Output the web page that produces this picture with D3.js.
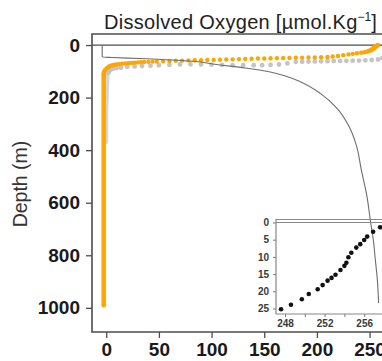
<!DOCTYPE html>
<html>
<head>
<meta charset="utf-8">
<script src="https://cdn.jsdelivr.net/npm/d3@7"></script>
<style>
  body { margin: 0; background: #fff; }
  svg { display: block; font-family: "Liberation Sans", Arial, sans-serif; }
</style>
</head>
<body>
<div id="chart"></div>
<script>
// tick values
const xTicks = [0, 50, 100, 150, 200, 250];
const yTicks = [0, 200, 400, 600, 800, 1000];
const insetXTicks = [248, 250, 252, 254, 256, 258];
const insetXLabels = [248, 252, 256];
const insetYTicks = [0, 5, 10, 15, 20, 25];

// [oxygen, depth] – orange cast, upper part drawn as dots
const orangeDots = [
  [258, 0], [257.6, 1.4], [256.9, 2.7], [256.3, 4.1], [256, 5.1], [255.6, 6.3],
  [255.2, 7.3], [254.7, 8.8], [254.4, 10.1], [254.2, 11.7], [254, 12.6], [253.6, 13.8],
  [253.1, 15.2], [252.7, 16.1], [252.3, 16.9], [251.8, 18.2], [251.3, 19.4],
  [250.4, 20.8], [249.7, 22.3], [248.6, 23.9], [247.6, 25.2], [245, 27.5],
  [242, 29.5], [238, 31.5], [234, 33.5], [230, 35.5], [225, 38.5], [220, 41.5],
  [215, 43.5], [210, 45.5], [204, 46.5], [198, 47], [192, 47.5], [186, 48],
  [180, 48.5], [174, 49], [168, 49.5], [162, 50], [156, 50.5], [150, 51],
  [144, 51.5], [138, 52], [132, 53], [126, 53.5], [120, 54.5], [114, 55],
  [108, 56], [102, 56.5], [96, 57], [90, 57.5], [84, 58], [78, 58.5],
  [72, 59.5], [66, 60], [60, 61], [54, 62], [48, 62.5], [44, 63], [40, 64],
  [36, 64.5], [33, 65.5], [30, 66], [27, 67], [24, 68], [21, 69], [18, 70],
  [15, 71], [12, 72.5], [10, 73.5], [8, 75], [6, 76.5], [4.5, 78.5], [3, 81],
  [2, 84], [1, 87], [0, 91], [-1, 95], [-1.8, 100], [-2.2, 105], [-2.4, 110]
];
// orange cast, deep part drawn as a thick line
const orangeDeep = [[-2.4, 110], [-2.4, 500], [-2.4, 990]];

// [oxygen, depth] – grey cast
const greyDots = [
  [276, 0], [274, 6], [272, 12], [270, 20], [268, 28], [266, 36], [264, 44],
  [262, 50], [258, 55], [252, 57], [246, 58], [240, 59], [234, 59.5], [228, 60],
  [222, 60.5], [216, 61], [210, 61.5], [204, 62], [198, 62.5], [192, 63],
  [186, 63.5], [180, 64], [172, 70], [164, 74], [156, 75.5], [148, 76.5],
  [140, 77], [130, 77], [120, 76.5], [110, 75.5], [100, 74.5], [90, 74],
  [80, 73.5], [70, 74], [60, 75.5], [50, 77], [42, 78.5], [34, 80], [27, 81.5],
  [20, 83], [14, 86], [10, 87.5], [7, 89], [5, 92], [3.5, 96], [2.5, 100], [2, 105]
];
const greyDeep = [[1.5, 105], [0.3, 250], [0.2, 370]];

// [value, depth] – thin grey profile
const thinProfile = [
  [-3.8, 0], [-3.8, 45.7], [5.7, 47.6], [32.3, 51.4], [77.9, 60.9], [108.3, 76.1],
  [132, 87.6], [155.7, 102.8], [170, 118], [184.2, 139.7], [203.2, 183.9],
  [219.1, 241], [229.8, 304.5], [237.4, 380.7], [242.2, 475.8], [247.6, 577.5],
  [250.7, 666.2], [253.6, 742.3], [255.5, 818.4], [257.4, 894.6], [258.6, 982]
];

// [oxygen, depth] – surface inset
const insetDots = [
  [247.6, 25.2], [248.6, 23.9], [249.7, 22.3], [250.4, 20.8], [251.3, 19.4],
  [251.8, 18.2], [252.3, 16.9], [252.7, 16.1], [253.1, 15.2], [253.6, 13.8],
  [254.0, 12.6], [254.2, 11.7], [254.4, 10.1], [254.7, 8.8], [255.2, 7.3],
  [255.6, 6.3], [256.0, 5.1], [256.3, 4.1], [256.9, 2.7], [257.6, 1.4], [258.3, 0.4]
];

const orangeColour = "#ffa500";
const greyColour = "#c4c4c4";
const frameColour = "#4d4d4d";

const width = 382, height = 361;
const svg = d3.select("#chart").append("svg")
  .attr("width", width)
  .attr("height", height);

// Main chart area
const margin = { top: 34, left: 92, bottom: 29 };
const innerW = 320, innerH = height - margin.top - margin.bottom;
const chart = svg.append("g").attr("transform", `translate(${margin.left},${margin.top})`);

const xScale = d3.scaleLinear().domain([-13.5, -13.5 + innerW / 1.0534]).range([0, innerW]);
const yScale = d3.scaleLinear().domain([-42, -42 + innerH / 0.2628]).range([0, innerH]);

// Axes
const xAxis = d3.axisBottom(xScale).tickValues(xTicks).tickSize(6).tickPadding(5)
  .tickSizeOuter(0).tickFormat(d3.format("d"));
const yAxis = d3.axisLeft(yScale).tickValues(yTicks).tickSize(6).tickPadding(6)
  .tickSizeOuter(0).tickFormat(d3.format("d"));

const xAxisGroup = chart.append("g").attr("transform", `translate(0,${innerH})`).call(xAxis);
const yAxisGroup = chart.append("g").call(yAxis);
[xAxisGroup, yAxisGroup].forEach(g => {
  g.select(".domain").remove();
  g.selectAll(".tick line").attr("stroke", frameColour).attr("stroke-width", 1.3);
  g.selectAll(".tick text")
    .attr("fill", "#1a1a1a")
    .style("font-size", "19px")
    .style("font-weight", "bold");
});

// Frame (left, top, bottom; right is outside view)
chart.append("path")
  .attr("d", `M${innerW},0H0V${innerH}H${innerW}`)
  .attr("fill", "none")
  .attr("stroke", frameColour)
  .attr("stroke-width", 1.6);

// zero depth line
chart.append("line")
  .attr("x1", 0).attr("x2", innerW)
  .attr("y1", yScale(0)).attr("y2", yScale(0))
  .attr("stroke", frameColour)
  .attr("stroke-width", 1.3);

const line = d3.line().x(d => xScale(d[0])).y(d => yScale(d[1]));

// Grey cast
chart.append("path").datum(greyDeep)
  .attr("d", line).attr("fill", "none")
  .attr("stroke", "#d6d6d6").attr("stroke-width", 3.5).attr("stroke-linecap", "round");
chart.append("g").selectAll("circle").data(greyDots).join("circle")
  .attr("cx", d => xScale(d[0])).attr("cy", d => yScale(d[1]))
  .attr("r", 2.4).attr("fill", greyColour);

// Orange cast
chart.append("path").datum(orangeDeep)
  .attr("d", line).attr("fill", "none")
  .attr("stroke", orangeColour).attr("stroke-width", 4.5).attr("stroke-linecap", "round");
chart.append("g").selectAll("circle").data(orangeDots).join("circle")
  .attr("cx", d => xScale(d[0])).attr("cy", d => yScale(d[1]))
  .attr("r", 2.2).attr("fill", orangeColour);

// Thin profile
chart.append("path").datum(thinProfile)
  .attr("d", line.curve(d3.curveMonotoneY)).attr("fill", "none")
  .attr("stroke", "#6e6e6e").attr("stroke-width", 1.1);

// Labels
svg.append("text")
  .attr("transform", `translate(27,${184}) rotate(-90)`)
  .attr("text-anchor", "middle")
  .attr("fill", "#333")
  .style("font-size", "19.5px")
  .text("Depth (m)");

const title = svg.append("text")
  .attr("x", 104).attr("y", 29)
  .attr("fill", "#222")
  .style("font-size", "20px")
  .style("letter-spacing", "0.3px");
title.append("tspan").text("Dissolved Oxygen [\u00b5mol.Kg");
title.append("tspan").attr("dy", -8).style("font-size", "12px").style("letter-spacing", "0px").text("\u22121");
title.append("tspan").attr("dy", 8).text("]");

// Inset
const inset = svg.append("g").attr("transform", "translate(276,219.5)");
const insetW = 120, insetH = 94.5;
const ixScale = d3.scaleLinear().domain([247.09, 247.09 + insetW / 9.9]).range([0, insetW]);
const iyScale = d3.scaleLinear().domain([-0.87, -0.87 + insetH / 3.44]).range([0, insetH]);

const ixAxis = d3.axisBottom(ixScale).tickValues(insetXTicks).tickSize(3).tickPadding(3)
  .tickFormat(d => insetXLabels.includes(d) ? d : "");
const iyAxis = d3.axisLeft(iyScale).tickValues(insetYTicks).tickSize(3).tickPadding(4);

const ixGroup = inset.append("g").attr("transform", `translate(0,${insetH})`).call(ixAxis);
const iyGroup = inset.append("g").call(iyAxis);
[ixGroup, iyGroup].forEach(g => {
  g.select(".domain").remove();
  g.selectAll(".tick line").attr("stroke", "#777");
  g.selectAll(".tick text")
    .attr("fill", "#3a3a3a")
    .style("font-size", "10px")
    .style("font-weight", "bold");
});

inset.append("path")
  .attr("d", `M${insetW},0H0V${insetH}H${insetW}`)
  .attr("fill", "none")
  .attr("stroke", "#888")
  .attr("stroke-width", 1.2);
inset.append("line")
  .attr("x1", 0).attr("x2", insetW)
  .attr("y1", iyScale(0)).attr("y2", iyScale(0))
  .attr("stroke", "#888").attr("stroke-width", 1.2);

inset.append("g").selectAll("circle").data(insetDots).join("circle")
  .attr("cx", d => ixScale(d[0])).attr("cy", d => iyScale(d[1]))
  .attr("r", 2.3).attr("fill", "#111");
</script>
</body>
</html>
